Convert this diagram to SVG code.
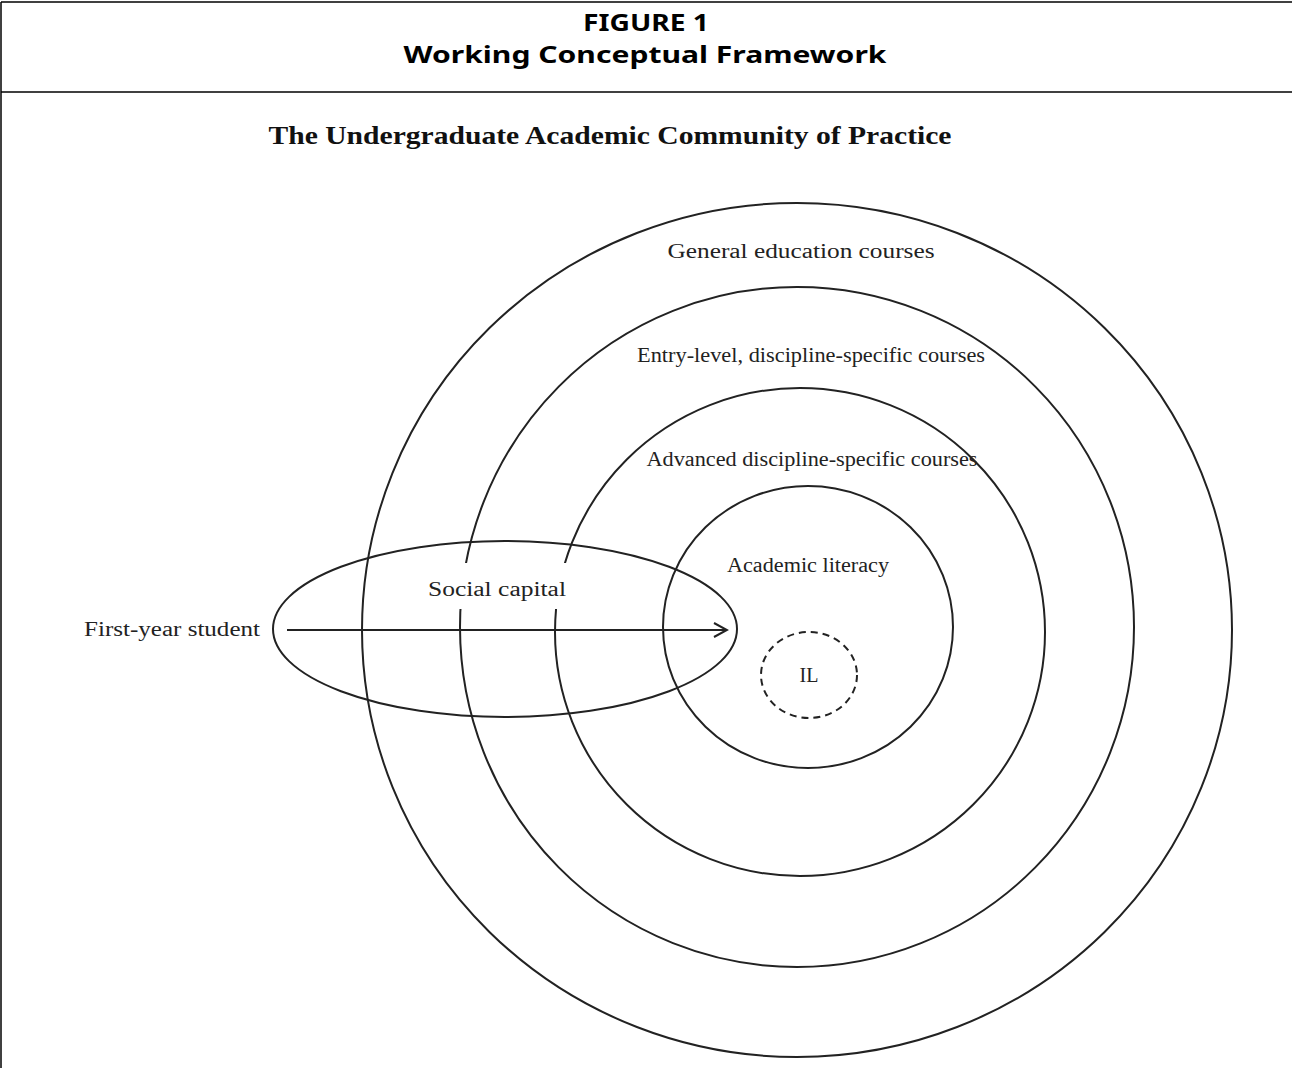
<svg xmlns="http://www.w3.org/2000/svg" width="1292" height="1068" viewBox="0 0 1292 1068">
<style>
.frame{stroke:#000;stroke-width:1.5;fill:none}
.ring{stroke:#222;stroke-width:2;fill:none}
.hdr{font-family:"Noto Sans","Open Sans","Liberation Sans",sans-serif;font-weight:bold;fill:#000;text-anchor:middle}
.lbl{font-family:"Liberation Serif","Times New Roman",serif;font-size:20px;fill:#222;text-anchor:middle}
.ttl{font-family:"Liberation Serif","Times New Roman",serif;font-size:26px;font-weight:bold;fill:#111;text-anchor:middle}
</style>
<defs>
<marker id="arr" markerWidth="16" markerHeight="16" refX="14" refY="8" orient="auto" markerUnits="userSpaceOnUse">
<path d="M1,1 L14,8 L1,15" fill="none" stroke="#222" stroke-width="2"/>
</marker>
</defs>
<rect width="1292" height="1068" fill="#fff"/>
<g id="header">
<line class="frame" x1="1" y1="2" x2="1292" y2="2"/>
<line class="frame" x1="1" y1="2" x2="1" y2="1068"/>
<line class="frame" x1="1" y1="92" x2="1292" y2="92"/>
<text class="hdr" x="646" y="31" font-size="23" textLength="126" lengthAdjust="spacingAndGlyphs">FIGURE 1</text>
<text class="hdr" x="645" y="63" font-size="24" textLength="483" lengthAdjust="spacingAndGlyphs">Working Conceptual Framework</text>
</g>
<text class="ttl" x="610" y="144" textLength="683" lengthAdjust="spacingAndGlyphs">The Undergraduate Academic Community of Practice</text>
<g id="general-education">
<ellipse class="ring" cx="797" cy="630" rx="435" ry="427"/>
<text class="lbl" x="801" y="258" textLength="267" lengthAdjust="spacingAndGlyphs">General education courses</text>
</g>
<g id="entry-level">
<ellipse class="ring" cx="797" cy="627" rx="337" ry="340"/>
<text class="lbl" x="811" y="362" textLength="348" lengthAdjust="spacingAndGlyphs">Entry-level, discipline-specific courses</text>
</g>
<g id="advanced">
<ellipse class="ring" cx="800" cy="632" rx="245" ry="244"/>
<text class="lbl" x="812" y="466" textLength="331" lengthAdjust="spacingAndGlyphs">Advanced discipline-specific courses</text>
</g>
<g id="academic-literacy">
<ellipse class="ring" cx="808" cy="627" rx="145" ry="141"/>
<text class="lbl" x="808" y="572" textLength="162" lengthAdjust="spacingAndGlyphs">Academic literacy</text>
</g>
<g id="il">
<ellipse class="ring" cx="809" cy="675" rx="48" ry="43" stroke-dasharray="7 5"/>
<text class="lbl" x="809" y="682" font-size="21">IL</text>
</g>
<g id="social-capital">
<ellipse class="ring" cx="505" cy="629" rx="232" ry="88"/>
<rect x="420" y="563" width="160" height="46" fill="#fff"/>
<text class="lbl" x="497" y="596" textLength="138" lengthAdjust="spacingAndGlyphs">Social capital</text>
</g>
<g id="first-year-student">
<text class="lbl" x="172" y="636" textLength="176" lengthAdjust="spacingAndGlyphs">First-year student</text>
</g>
<g id="connectors">
<line x1="287" y1="630" x2="727" y2="630" stroke="#222" stroke-width="2" marker-end="url(#arr)"/>
</g>
</svg>
